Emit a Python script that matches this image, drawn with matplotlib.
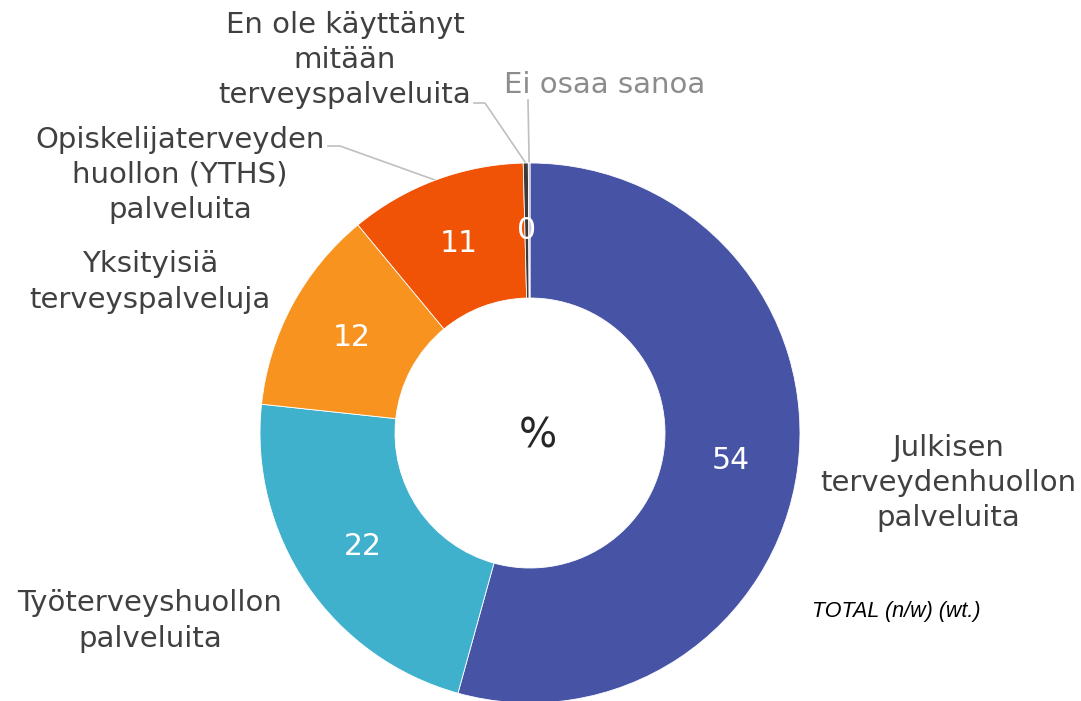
import numpy as np
import matplotlib
matplotlib.use("Agg")
import matplotlib.pyplot as plt

# data (clockwise from 12 o'clock)
categories = [
    "Julkisen\nterveydenhuollon\npalveluita",
    "Työterveyshuollon\npalveluita",
    "Yksityisiä\nterveyspalveluja",
    "Opiskelijaterveyden\nhuollon (YTHS)\npalveluita",
    "En ole käyttänyt\nmitään\nterveyspalveluita",
    "Ei osaa sanoa",
]
values = [54.3, 22.4, 12.3, 10.6, 0.3, 0.1]
value_labels = ["54", "22", "12", "11", "0", ""]
colors = ["#4754A6", "#3FB1CD", "#F7931E", "#F05206", "#3B3B3B", "#A6A6A6"]

W, H = 1081, 701
CX, CY, R = 530, 433, 270  # pixel centre and radius of the donut


def px(x, y):
    """pixel position -> data coords (radius 1 == R px)"""
    return (x - CX) / R, (CY - y) / R


fig = plt.figure(figsize=(W / 100, H / 100), dpi=100)
ax = fig.add_axes((0, 0, 1, 1))

wedges, _ = ax.pie(
    values,
    colors=colors,
    startangle=90,
    counterclock=False,
    radius=1.0,
    wedgeprops=dict(width=0.5, edgecolor="white", linewidth=0.6),
)
# pie() resets the limits, so set them afterwards
ax.set_xlim(px(0, 0)[0], px(W, 0)[0])
ax.set_ylim(px(0, H)[1], px(0, 0)[1])
ax.set_aspect("equal")
ax.axis("off")

# value labels in the middle of the ring
for w, lab in zip(wedges, value_labels):
    if not lab:
        continue
    ang = np.deg2rad((w.theta1 + w.theta2) / 2)
    ax.text(0.75 * np.cos(ang), 0.75 * np.sin(ang), lab, color="white",
            fontsize=21.5, ha="center", va="center")

ax.text(*px(538, 437), "%", fontsize=29, color="#262626",
        ha="center", va="center")

text_color = "#404040"
# label centres (pixels) and optional leader elbow points
label_pos = [
    (948, 483, None),
    (150, 621, None),
    (150, 282, None),
    (180, 175, [(328, 146), (340, 146)]),
    (345, 60, [(474, 103), (485, 103)]),
    (605, 85, [(528, 100)]),
]

for i, (w, name, (lx, ly, elbow)) in enumerate(zip(wedges, categories, label_pos)):
    col = "#8C8C8C" if i == 5 else text_color
    ax.text(*px(lx, ly), name, fontsize=21, color=col, ha="center",
            va="center", linespacing=1.33)
    if elbow:
        ang = np.deg2rad((w.theta1 + w.theta2) / 2)
        pts = [px(*p) for p in elbow] + [(np.cos(ang), np.sin(ang))]
        xs, ys = zip(*pts)
        ax.plot(xs, ys, color="#BFBFBF", lw=1.2, zorder=0.5)

ax.text(*px(812, 612), "TOTAL (n/w) (wt.)", fontsize=15.5, style="italic",
        family="Liberation Sans", color="black", ha="left", va="center")

fig.savefig("out.png", dpi=100)
